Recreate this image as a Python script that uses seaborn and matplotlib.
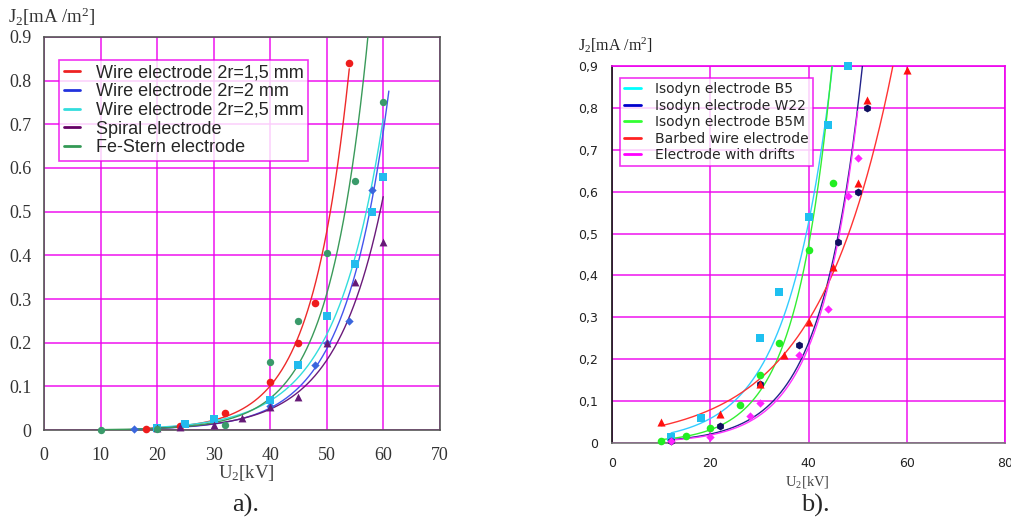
import numpy as np
import matplotlib
matplotlib.use("Agg")
import matplotlib.pyplot as plt
import seaborn as sns
from matplotlib.lines import Line2D

# ==============================
# DATA
# ==============================

# a) wire / spiral / Fe-Stern electrodes
a_labels = ["Wire electrode 2r=1,5 mm", "Wire electrode 2r=2 mm",
            "Wire electrode 2r=2,5 mm", "Spiral electrode", "Fe-Stern electrode"]

a_red_x = [18, 24, 32, 40, 45, 48, 54]
a_red_y = [0.003, 0.01, 0.038, 0.11, 0.2, 0.29, 0.84]

a_blue_x = [16, 20, 40, 48, 50, 54, 58]
a_blue_y = [0.002, 0.004, 0.055, 0.15, 0.2, 0.25, 0.55]

a_cyan_x = [20, 25, 30, 40, 45, 50, 55, 58, 60]
a_cyan_y = [0.004, 0.014, 0.025, 0.068, 0.15, 0.26, 0.38, 0.5, 0.58]

a_purple_x = [20, 24, 30, 35, 40, 45, 50, 55, 60]
a_purple_y = [0.005, 0.006, 0.012, 0.027, 0.053, 0.075, 0.2, 0.34, 0.43]

a_green_x = [10, 20, 32, 40, 45, 50, 55, 60]
a_green_y = [0.001, 0.003, 0.012, 0.155, 0.25, 0.405, 0.57, 0.75]

# b) Isodyn / barbed wire / drifts electrodes
b_labels = ["Isodyn electrode B5", "Isodyn electrode W22", "Isodyn electrode B5M",
            "Barbed wire electrode", "Electrode with drifts"]

b_b5_x = [12, 18, 30, 34, 40, 44, 48]
b_b5_y = [0.015, 0.06, 0.25, 0.36, 0.54, 0.76, 0.9]

b_w22_x = [12, 22, 30, 38, 46, 50, 52]
b_w22_y = [0.004, 0.04, 0.14, 0.235, 0.48, 0.6, 0.8]

b_b5m_x = [10, 15, 20, 26, 30, 34, 40, 45]
b_b5m_y = [0.005, 0.018, 0.037, 0.092, 0.162, 0.24, 0.46, 0.62]

b_barb_x = [10, 22, 30, 35, 40, 45, 50, 52, 60]
b_barb_y = [0.05, 0.07, 0.14, 0.21, 0.29, 0.42, 0.62, 0.82, 0.89]

b_drift_x = [12, 20, 28, 30, 38, 44, 48, 50]
b_drift_y = [0.006, 0.015, 0.065, 0.095, 0.21, 0.32, 0.59, 0.68]

a_xticks = [0, 10, 20, 30, 40, 50, 60, 70]
a_yticks = [0, 0.1, 0.2, 0.3, 0.4, 0.5, 0.6, 0.7, 0.8, 0.9]
b_xticks = [0, 20, 40, 60, 80]
b_yticks = [0, 0.1, 0.2, 0.3, 0.4, 0.5, 0.6, 0.7, 0.8, 0.9]
b_ytick_labels = ["0", "0,1", "0,2", "0,3", "0,4", "0,5", "0,6", "0,7", "0,8", "0,9"]

SERIF = ["Liberation Serif", "DejaVu Serif"]
SANS = ["Liberation Sans", "DejaVu Sans"]
MAGENTA = "#ee00ee"


# ==============================
# HELPERS
# ==============================

def exp_trend(x, y, x_end=None):
    """Excel-style exponential trendline: least squares on ln(y)."""
    b, ln_a = np.polyfit(np.asarray(x, float), np.log(y), 1)
    xs = np.linspace(x[0], x_end if x_end else x[-1], 300)
    return xs, np.exp(ln_a + b * xs)


def draw_series(ax, x, y, line_color, mark_color, marker, size, x_end=None):
    xs, ys = exp_trend(x, y, x_end)
    sns.lineplot(x=xs, y=ys, ax=ax, color=line_color, lw=1.0, sort=False, zorder=3)
    sns.scatterplot(x=x, y=y, ax=ax, color=mark_color, marker=marker, s=size,
                    linewidth=0, zorder=4, clip_on=False)


# ==============================
# PANEL a)
# ==============================

def panel_a(fig):
    ax = fig.add_axes([0.0435, 0.173, 0.391, 0.756])
    ax.set_xlim(0, 70)
    ax.set_ylim(0, 0.9)

    series = [
        (a_red_x, a_red_y, "#ee2a2a", "#ee1c1c", "o", 30, None),
        (a_blue_x, a_blue_y, "#4455ee", "#3a66dd", "D", 18, 61),
        (a_cyan_x, a_cyan_y, "#33dddd", "#22bbee", "s", 30, 60),
        (a_purple_x, a_purple_y, "#6a1a7a", "#661a77", "^", 32, None),
        (a_green_x, a_green_y, "#3a9a5a", "#3a9a6a", "o", 28, None),
    ]
    for x, y, lc, mc, mk, s, xe in series:
        draw_series(ax, x, y, lc, mc, mk, s, xe)

    ax.set_xticks(a_xticks)
    ax.set_yticks(a_yticks)
    ax.set_xticklabels([str(t) for t in a_xticks])
    ax.set_yticklabels(["0"] + [f"{t:.1f}" for t in a_yticks[1:]])
    ax.grid(True, color=MAGENTA, lw=1.2, alpha=0.85)
    ax.set_axisbelow(True)
    for sp in ax.spines.values():
        sp.set_color("#555555")
        sp.set_linewidth(1.2)
    ax.tick_params(direction="out", length=4, width=1, color="#444444",
                   labelsize=13, labelcolor="#333333", pad=5)
    ax.tick_params(axis="x", pad=8)
    for lab in ax.get_xticklabels() + ax.get_yticklabels():
        lab.set_family(SERIF)
    ax.set_xlabel("")
    ax.set_ylabel("")

    handles = [Line2D([], [], color=c, lw=2) for c in
               ["#ee2222", "#2233dd", "#33dddd", "#660066", "#339955"]]
    leg = ax.legend(handles, a_labels, loc="upper left", bbox_to_anchor=(0.038, 0.942),
                    prop={"family": SANS, "size": 13}, frameon=True, fancybox=False,
                    handlelength=0.9, handletextpad=0.9, borderpad=0.25,
                    labelspacing=0.1, borderaxespad=0)
    leg.get_frame().set_edgecolor(MAGENTA)
    leg.get_frame().set_linewidth(1.2)

    fig.text(0.008, 0.967, "J$_2$[mA /m$^2$]", family=SERIF, fontsize=13.5,
             color="#333333", va="center", ha="left")
    fig.text(0.243, 0.09, "U$_2$[kV]", family=SERIF, fontsize=13.5,
             color="#444444", ha="center", va="center")
    fig.text(0.243, 0.028, "a).", family=SERIF, fontsize=19, ha="center", va="center")


# ==============================
# PANEL b)
# ==============================

def panel_b(fig):
    ax = fig.add_axes([0.605, 0.148, 0.388, 0.725])
    ax.set_xlim(0, 80)
    ax.set_ylim(0, 0.9)

    series = [
        (b_b5_x, b_b5_y, "#33ccff", "#1ec0f0", "s", 30),
        (b_w22_x, b_w22_y, "#22228a", "#101060", "h", 32),
        (b_b5m_x, b_b5m_y, "#33ee33", "#22ee22", "o", 30),
        (b_barb_x, b_barb_y, "#ff3333", "#ff1010", "^", 34),
        (b_drift_x, b_drift_y, "#ff33ff", "#ff22ff", "D", 18),
    ]
    for x, y, lc, mc, mk, s in series:
        draw_series(ax, x, y, lc, mc, mk, s)

    ax.set_xticks(b_xticks)
    ax.set_yticks(b_yticks)
    ax.set_xticklabels([str(t) for t in b_xticks])
    ax.set_yticklabels(b_ytick_labels)
    ax.grid(True, color=MAGENTA, lw=1.2, alpha=0.85)
    ax.set_axisbelow(True)
    ax.spines["left"].set_color("#111111")
    ax.spines["bottom"].set_color("#777777")
    ax.spines["top"].set_color(MAGENTA)
    ax.spines["right"].set_color(MAGENTA)
    for sp in ax.spines.values():
        sp.set_linewidth(1.2)
    ax.tick_params(direction="out", length=4, width=1, color="#222222",
                   labelsize=9, labelcolor="#222222", pad=6)
    # ticks sitting on the magenta grid lines are drawn magenta, as in the source
    for tick in ax.xaxis.get_major_ticks()[2:]:
        tick.tick1line.set_color(MAGENTA)
    for lab in ax.get_xticklabels() + ax.get_yticklabels():
        lab.set_family(["DejaVu Sans"])
    ax.set_xlabel("")
    ax.set_ylabel("")

    handles = [Line2D([], [], color=c, lw=2) for c in
               ["#00ffff", "#0000cc", "#33ff33", "#ff2222", "#ff00ff"]]
    leg = ax.legend(handles, b_labels, loc="upper left", bbox_to_anchor=(0.02, 0.968),
                    prop={"family": ["DejaVu Sans"], "size": 10}, frameon=True,
                    fancybox=False, handlelength=1.2, handletextpad=1.0,
                    borderpad=0.3, labelspacing=0.18, borderaxespad=0)
    leg.get_frame().set_edgecolor(MAGENTA)
    leg.get_frame().set_linewidth(1.2)

    fig.text(0.571, 0.913, "J$_2$[mA /m$^2$]", family=SERIF, fontsize=11.5,
             color="#222222", va="center", ha="left")
    fig.text(0.798, 0.074, "U$_2$[kV]", family=SERIF, fontsize=10.5,
             color="#444444", ha="center", va="center")
    fig.text(0.806, 0.028, "b).", family=SERIF, fontsize=19, ha="center", va="center")


# ==============================
# MAIN
# ==============================

def main():
    sns.set_theme(style="white")
    plt.rcParams["mathtext.fontset"] = "custom"
    plt.rcParams["mathtext.rm"] = "Liberation Serif"
    plt.rcParams["mathtext.it"] = "Liberation Serif"
    plt.rcParams["mathtext.default"] = "rm"

    fig = plt.figure(figsize=(10.12, 5.2), dpi=100)
    fig.patch.set_facecolor("white")
    panel_a(fig)
    panel_b(fig)
    fig.savefig("out.png", dpi=100, facecolor="white")


if __name__ == "__main__":
    main()
